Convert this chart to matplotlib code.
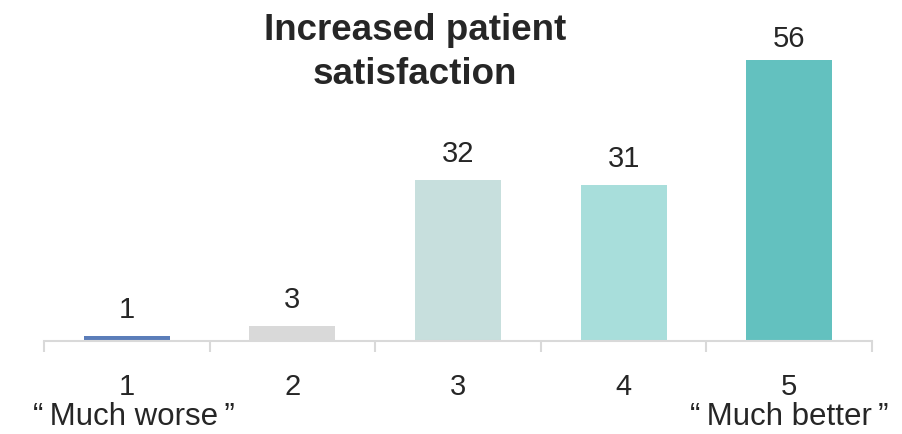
import matplotlib
matplotlib.use("Agg")
import matplotlib.pyplot as plt

plt.rcParams['font.family'] = ['Liberation Sans', 'DejaVu Sans']

# Survey scores and the share of responses for each
categories = [1, 2, 3, 4, 5]
values = [1, 3, 32, 31, 56]
descriptions = ["\u201c\u2009Much worse\u2009\u201d", "", "", "", "\u201c\u2009Much better\u2009\u201d"]
colors = ["#5b7db9", "#d9d9d9", "#c7dfdd", "#a8dedb", "#63c1bf"]
title = "Increased patient\nsatisfaction"

text_color = "#262626"
axis_color = "#d9d9d9"
font_size = 21

fig = plt.figure(figsize=(9.02, 4.34), dpi=100)
ax = fig.add_axes([44 / 902, 93 / 434, 828 / 902, 301 / 434])

bars = ax.bar(categories, values, width=0.52, color=colors, zorder=2)
ax.set_xlim(0.5, 5.5)
ax.set_ylim(0, 60)

# Value labels sit above each bar, kept inside the plot area
label_gap = 3.6
label_ceiling = 58.6
for bar, v in zip(bars, values):
    ax.text(bar.get_x() + bar.get_width() / 2, min(v + label_gap, label_ceiling), str(v),
            ha="center", va="baseline", fontsize=font_size, color=text_color)

# Axis line with boundary ticks between categories
for side in ("top", "right", "left"):
    ax.spines[side].set_visible(False)
ax.spines["bottom"].set_color(axis_color)
ax.spines["bottom"].set_linewidth(1.5)
ax.set_yticks([])
ax.set_xticks(categories)
ax.set_xticklabels([str(c) for c in categories], fontsize=font_size, color=text_color)
ax.tick_params(axis="x", which="major", length=0, pad=23)
ax.set_xticks([c + 0.5 for c in [0] + categories], minor=True)
ax.tick_params(axis="x", which="minor", length=8, width=1.5, color=axis_color)

for c, d in zip(categories, descriptions):
    if d:
        ax.annotate(d, (c + (0.04 if c == categories[0] else 0), 0),
                    xycoords=("data", "axes fraction"),
                    xytext=(0, -84), textcoords="offset pixels",
                    ha="center", va="baseline", fontsize=22.5, color=text_color)

fig.text(415 / 902, 1 - 84 / 434, title, ha="center", va="baseline",
         fontsize=26.5, fontweight="bold", color=text_color, linespacing=1.33)

fig.savefig("out.png", dpi=100)
